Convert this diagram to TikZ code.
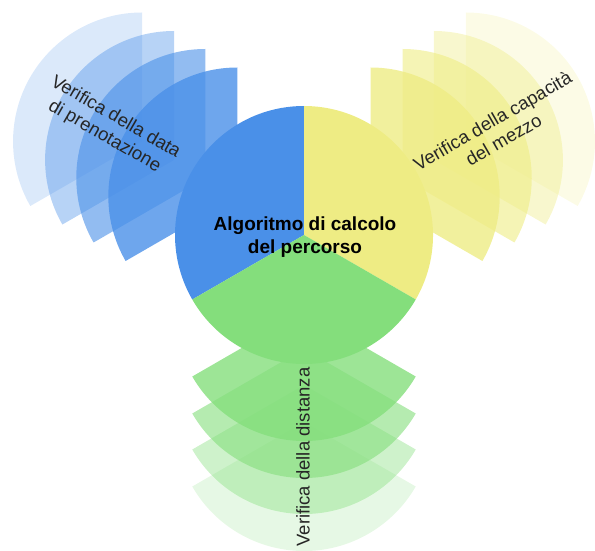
\documentclass[tikz,border=0pt]{standalone}
\usepackage{fontspec}
\setmainfont{Liberation Sans}
\usetikzlibrary{calc}
\definecolor{cblue}{HTML}{4A90E8}
\definecolor{cyellow}{HTML}{EEEC84}
\definecolor{cgreen}{HTML}{84DE7C}
\newcommand\fanpiece[4]{% colour, bisector angle, distance, opacity
  \fill[#1, opacity=#4] ($(C)+(#2:#3)$) -- ++(#2-60:129)
    arc[start angle=#2-60, end angle=#2+60, radius=129] -- cycle;}
\begin{document}
\begin{tikzpicture}[x=1pt,y=1pt,
  sidetext/.style={align=center, inner sep=0pt, text=black!85,
    font=\fontsize{18.5}{22}\selectfont},
  centertext/.style={align=center, inner sep=0pt, text=black,
    font=\bfseries\fontsize{19}{23}\selectfont}]
\useasboundingbox (0,0) rectangle (595,550);
\coordinate (C) at (304,315);
% outer fans, farthest first
\foreach \d/\o in {187/0.2, 150/0.4, 114/0.6, 77/0.8}{
  \fanpiece{cblue}{150}{\d}{\o}
  \fanpiece{cyellow}{30}{\d}{\o}
  \fanpiece{cgreen}{270}{\d}{\o}
}
% central circle
\fanpiece{cblue}{150}{0}{1}
\fanpiece{cyellow}{30}{0}{1}
\fanpiece{cgreen}{270}{0}{1}
% texts
\node[sidetext, rotate=-30] (tb) at (110,423) {Verifica della data\\di prenotazione};
\node[sidetext, rotate=30] (ty) at (498,420) {Verifica della capacità\\del mezzo};
\node[sidetext, rotate=90] (tg) at (303,93) {Verifica della distanza};
\node[centertext] (tc) at (305,313) {Algoritmo di calcolo\\del percorso};
\end{tikzpicture}
\end{document}
